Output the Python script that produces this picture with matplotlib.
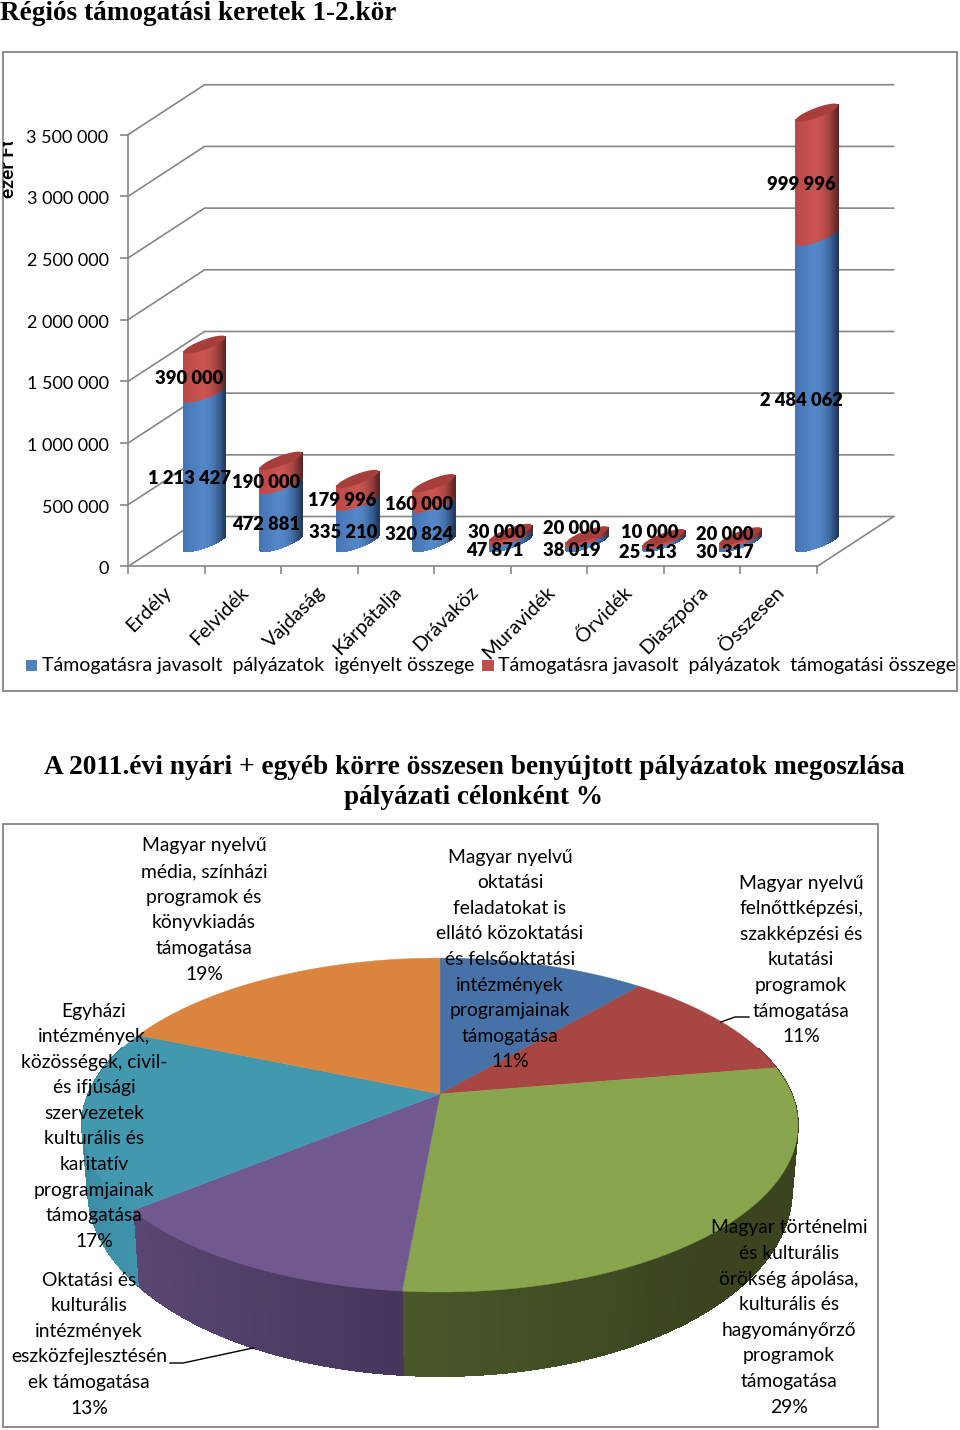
import numpy as np
import matplotlib
matplotlib.use("Agg")
import matplotlib.pyplot as plt
from matplotlib.collections import PolyCollection
from matplotlib.patches import Rectangle
from matplotlib.ticker import FuncFormatter
from matplotlib.transforms import ScaledTranslation

plt.rcParams["font.family"] = ["Lato", "DejaVu Sans"]

###########################################################
# Data
###########################################################

regions = ["Erdély", "Felvidék", "Vajdaság", "Kárpátalja", "Drávaköz",
           "Muravidék", "Őrvidék", "Diaszpóra", "Összesen"]
requested = [1213427, 472881, 335210, 320824, 47871, 38019, 25513, 30317, 2484062]
granted = [390000, 190000, 179996, 160000, 30000, 20000, 10000, 20000, 999996]
y_ticks = [0, 500000, 1000000, 1500000, 2000000, 2500000, 3000000, 3500000]

pie_shares = [11.2, 11.1, 29.1, 12.6, 17.4, 18.6]
pie_colors = ["#4672A8", "#A84644", "#89A54E", "#71588F", "#4198AF", "#DB843D"]
side_left = ["#3A5F8C", "#8C3A38", "#566830", "#5A4873", "#3F93AB", "#B06A30"]
side_right = ["#3A5F8C", "#8C3A38", "#3A4520", "#46365C", "#357F95", "#B06A30"]

GRAY = "#868686"

fig = plt.figure(figsize=(9.6, 14.3), dpi=100)


def px_axes(x0, y0, x1, y1, **kw):
    return fig.add_axes([x0 / 960, 1 - y1 / 1430, (x1 - x0) / 960, (y1 - y0) / 1430], **kw)


###########################################################
# Page layer: frames and all free text, pixel coordinates
###########################################################

page = px_axes(0, 0, 960, 1430, zorder=5)
page.set_xlim(0, 960)
page.set_ylim(1430, 0)
page.axis("off")
page.patch.set_alpha(0)

page.add_patch(Rectangle((3, 52), 954, 639, fill=False, ec=GRAY, lw=1.3))
page.add_patch(Rectangle((3, 824), 875, 603, fill=False, ec=GRAY, lw=1.3))

page.text(0, 13.5, "Régiós támogatási keretek 1-2.kör", family="Liberation Serif",
          weight="bold", fontsize=19.6, ha="left", va="center")
page.text(474, 767, "A 2011.évi nyári + egyéb körre összesen benyújtott pályázatok megoszlása",
          family="Liberation Serif", weight="bold", fontsize=19.75, ha="center", va="center")
page.text(473, 798, "pályázati célonként %", family="Liberation Serif", weight="bold",
          fontsize=19.6, ha="center", va="center")

ylab = page.text(9, 198, "ezer Ft", rotation=90, weight="bold", fontsize=13.8,
                 ha="center", va="bottom")
ylab.set_clip_path(Rectangle((3, 142), 20, 60, transform=page.transData))
ylab.set_clip_on(True)

page.add_patch(Rectangle((26, 660), 11, 11, fc="#4F81BD", ec="none"))
page.add_patch(Rectangle((482, 660), 12, 11, fc="#C0504D", ec="none"))
page.text(42, 666, "Támogatásra javasolt  pályázatok  igényelt összege", fontsize=14.0,
          ha="left", va="center")
page.text(498, 666, "Támogatásra javasolt  pályázatok  támogatási összege", fontsize=14.08,
          ha="left", va="center")

###########################################################
# Cylinder chart
###########################################################

# y=0 at pixel 566.5, 3.5M at 134.7; one category is 76.5 px wide
ax = px_axes(128, 134.7, 817, 566.5, zorder=1)
ax.set_xlim(0, 9)
ax.set_ylim(0, 3500000)
ax.patch.set_alpha(0)
for s in ["top", "right"]:
    ax.spines[s].set_visible(False)
for s in ["left", "bottom"]:
    ax.spines[s].set_color(GRAY)
    ax.spines[s].set_linewidth(1.2)

depth_x = 1.0
depth_y = 405000
for t in y_ticks:
    ax.plot([0, depth_x, 9 + depth_x], [t, t + depth_y, t + depth_y], color=GRAY,
            lw=1.2, clip_on=False, zorder=1, solid_joinstyle="miter")
ax.plot([9, 9 + depth_x], [0, depth_y], color=GRAY, lw=1.2, clip_on=False, zorder=1)
ax.plot([9, 9], [0, -50000], color=GRAY, lw=1.2, clip_on=False, zorder=1)

ax.set_yticks(y_ticks)
ax.yaxis.set_major_formatter(FuncFormatter(lambda v, _: f"{int(v):,}".replace(",", " ")))
ax.tick_params(axis="y", length=6, width=1.2, color=GRAY, labelsize=13.0, pad=8)
# tick labels sit a little under the tick in the original
nudge = ScaledTranslation(0, -1.5 / 100, fig.dpi_scale_trans)
for lab in ax.get_yticklabels():
    lab.set_transform(lab.get_transform() + nudge)
ax.set_xticks(range(0, 9))
ax.tick_params(axis="x", which="major", length=6, width=1.2, color=GRAY, labelbottom=False)
ax.set_xticks(np.arange(9) + 0.46, labels=regions, minor=True)
ax.tick_params(axis="x", which="minor", length=0, labelsize=14.5, pad=12)
for lab in ax.get_xticklabels(minor=True):
    lab.set_rotation(45)
    lab.set_ha("right")
    lab.set_rotation_mode("anchor")


def shade(u, light, mid, dark):
    # u from -1 (left) to 1 (right)
    light, mid, dark = np.array(light), np.array(mid), np.array(dark)
    if u < -0.1:
        return (light + (mid - light) * (u + 1) / 0.9) / 255
    f = (u + 0.1) / 1.1
    return (mid + (dark - mid) * f ** 2.2) / 255


blue_shades = ((68, 115, 178), (84, 135, 200), (32, 58, 98))
red_shades = ((185, 72, 70), (203, 84, 80), (96, 38, 36))

rx = 0.275
tilt = 60000
bulge = 42000
base = 195000
n = 40
edges = np.cos(np.linspace(np.pi, 0, n + 1))


def front(u):
    return tilt * u - bulge * np.sqrt(np.clip(1 - u ** 2, 0, 1))


def strips(cx, low, high, shades):
    polys, cols = [], []
    for a, b in zip(edges[:-1], edges[1:]):
        polys.append([(cx + rx * a, low + front(a)), (cx + rx * b, low + front(b)),
                      (cx + rx * b, high + front(b)), (cx + rx * a, high + front(a))])
        cols.append(shade((a + b) / 2, *shades))
    ax.add_collection(PolyCollection(polys, facecolors=cols, edgecolors=cols, linewidths=0.5,
                                     antialiaseds=False, clip_on=False, zorder=3))


for i, (b, r) in enumerate(zip(requested, granted)):
    cx = i + 1
    strips(cx, base, base + b, blue_shades)
    strips(cx, base + b, base + b + r, red_shades)
    t = np.linspace(0, 2 * np.pi, 80)
    ax.fill(cx + rx * np.cos(t), base + b + r + tilt * np.cos(t) + bulge * np.sin(t),
            color="#A63F3C", lw=0, clip_on=False, zorder=4)

blue_label_pos = [(189, 479), (266, 524), (343, 532), (419, 534), (495, 550),
                  (572, 551), (648, 552), (725, 552), (801, 400)]
red_label_pos = [(189, 379), (266, 483), (342, 501), (419, 504), (497, 532),
                 (572, 528), (650, 533), (725, 534), (801, 185)]
for vals, positions in [(requested, blue_label_pos), (granted, red_label_pos)]:
    for v, (x, y) in zip(vals, positions):
        page.text(x, y, f"{v:,}".replace(",", " "), weight="heavy", fontsize=13.2,
                  ha="center", va="center", color="black")

###########################################################
# 3D pie, circle pushed through a perspective mapping
###########################################################

APEX = (440, 1094)
PERSP = 0.186


def top_rim(ang):
    u, v = np.sin(ang), np.cos(ang)
    d = 1 + PERSP * v
    return APEX[0] + 351.7 * u / d, APEX[1] - 161.2 * v / d


def low_rim(ang):
    x, y = top_rim(ang)
    nx, ny = (x - 440) / 358, (y - 1125) / 167
    return 440 + 352 * nx, 1190 + 186 * ny


cum = np.concatenate([[0], np.cumsum(pie_shares)]) / sum(pie_shares) * 2 * np.pi

for i in range(len(pie_shares)):
    angs = np.linspace(cum[i], cum[i + 1], 90)
    polys, cols = [], []
    c0 = np.array(matplotlib.colors.to_rgb(side_left[i]))
    c1 = np.array(matplotlib.colors.to_rgb(side_right[i]))
    for a, b in zip(angs[:-1], angs[1:]):
        if np.cos((a + b) / 2) > 0.3:
            continue
        xa, ya = top_rim(a)
        xb, yb = top_rim(b)
        la, lya = low_rim(a)
        lb, lyb = low_rim(b)
        polys.append([(xa, ya), (xb, yb), (lb, lyb), (la, lya)])
        # the shading runs left to right across the screen
        if i == 2:
            f = 1 - np.clip((700 - (xa + xb) / 2) / 560, 0, 1)
        elif i == 3:
            f = 1 - (a - cum[i]) / (cum[i + 1] - cum[i])
        else:
            f = (a - cum[i]) / (cum[i + 1] - cum[i])
        cols.append(c0 + (c1 - c0) * f)
    if polys:
        page.add_collection(PolyCollection(polys, facecolors=cols, edgecolors=cols,
                                           linewidths=0.6, antialiaseds=False, zorder=2))

for i in range(len(pie_shares)):
    angs = np.linspace(cum[i], cum[i + 1], 120)
    xs, ys = top_rim(angs)
    page.fill(np.r_[APEX[0], xs], np.r_[APEX[1], ys], color=pie_colors[i], lw=0.3, zorder=3)

pie_labels = [
    (204, 846, ["Magyar nyelvű", "média, színházi", "programok és", "könyvkiadás", "támogatása", "19%"]),
    (510, 857, ["Magyar nyelvű", "oktatási", "feladatokat is", "ellátó közoktatási", "és felsőoktatási",
                "intézmények", "programjainak", "támogatása", "11%"]),
    (801, 883, ["Magyar nyelvű", "felnőttképzési,", "szakképzési és", "kutatási", "programok",
                "támogatása", "11%"]),
    (94, 1011, ["Egyházi", "intézmények,", "közösségek, civil-", "és ifjúsági", "szervezetek",
                "kulturális és", "karitatív", "programjainak", "támogatása", "17%"]),
    (89, 1280, ["Oktatási és", "kulturális", "intézmények", "eszközfejlesztésén", "ek támogatása", "13%"]),
    (789, 1228, ["Magyar történelmi", "és kulturális", "örökség ápolása,", "kulturális és",
                 "hagyományőrző", "programok", "támogatása", "29%"]),
]
for x, y, lines in pie_labels:
    for j, line in enumerate(lines):
        page.text(x, y + j * 25.6, line, fontsize=13.85, ha="center", va="center", zorder=6)

page.plot([749, 735, 721], [1017, 1017, 1022], color="black", lw=1, zorder=5)
page.plot([170, 183, 253], [1363, 1363, 1348], color="black", lw=1, zorder=5)

plt.savefig("out.png", dpi=100)
